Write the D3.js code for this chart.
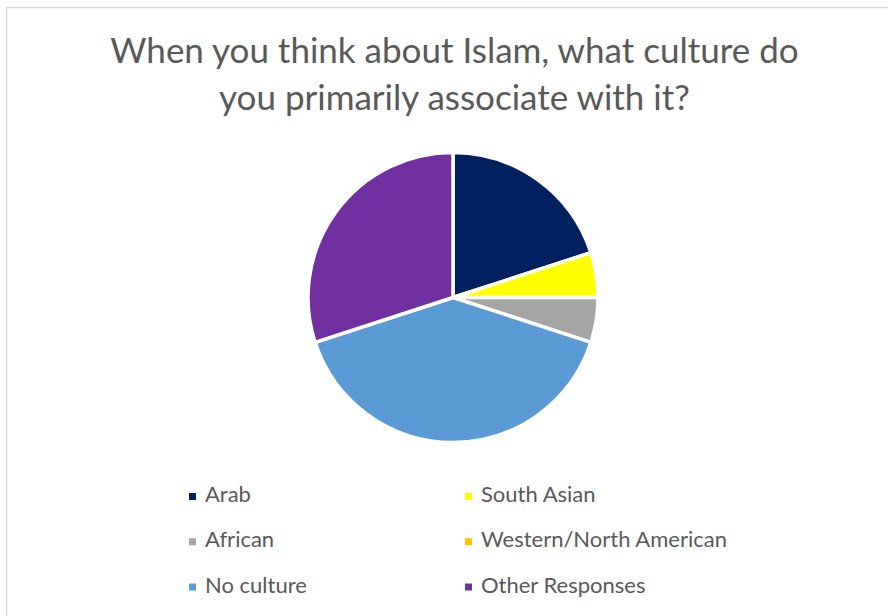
<!DOCTYPE html>
<html>
<head>
<meta charset="utf-8">
<script src="https://cdn.jsdelivr.net/npm/d3@7"></script>
<style>
  html, body { margin: 0; padding: 0; background: #ffffff; }
  svg { display: block; }
</style>
</head>
<body>
<svg id="chart" width="888" height="616"></svg>
<script>
// Survey responses
const categories = ["Arab", "South Asian", "African", "Western/North American", "No culture", "Other Responses"];
const counts = [4, 1, 1, 0, 8, 6];
const colors = ["#002060", "#FFFF00", "#A5A5A5", "#FFC000", "#5B9BD5", "#7030A0"];
const titleLines = ["When you think about Islam, what culture do", "you primarily associate with it?"];

const svg = d3.select("#chart");
const W = 888, H = 616;

// Chart area frame
svg.append("rect")
  .attr("x", 6.5).attr("y", 7.5)
  .attr("width", W + 10).attr("height", H + 10)
  .attr("fill", "#ffffff")
  .attr("stroke", "#d9d9d9").attr("stroke-width", 1.5);

// Title
const fontFamily = "Lato, 'Open Sans', sans-serif";
svg.append("g").selectAll("text")
  .data(titleLines)
  .join("text")
  .attr("x", 454.5)
  .attr("y", (d, i) => 63 + i * 47)
  .attr("text-anchor", "middle")
  .attr("font-family", fontFamily)
  .attr("font-size", 35)
  .attr("fill", "#595959")
  .text(d => d);

// Pie
const data = categories.map((c, i) => ({ name: c, value: counts[i], color: colors[i] }));
const pie = d3.pie().value(d => d.value).sort(null);
const arc = d3.arc().innerRadius(0).outerRadius(145);
const color = d3.scaleOrdinal().domain(categories).range(colors);

svg.append("g")
  .attr("transform", "translate(453,297.5)")
  .selectAll("path")
  .data(pie(data).filter(d => d.data.value > 0))
  .join("path")
  .attr("d", arc)
  .attr("fill", d => color(d.data.name))
  .attr("stroke", "#ffffff")
  .attr("stroke-width", 3.5)
  .attr("stroke-linejoin", "round");

// Legend: two columns, three rows
const colX = d3.scaleOrdinal().domain([0, 1]).range([189, 465]);
const rowY = d3.scalePoint().domain([0, 1, 2]).range([496.5, 587]);
const legend = svg.append("g").selectAll("g")
  .data(categories)
  .join("g")
  .attr("transform", (d, i) => `translate(${colX(i % 2)},${rowY(Math.floor(i / 2))})`);

legend.append("rect")
  .attr("x", 0).attr("y", -3.5)
  .attr("width", 7).attr("height", 7)
  .attr("fill", d => color(d));

legend.append("text")
  .attr("x", 16).attr("y", 5.5)
  .attr("font-family", fontFamily)
  .attr("font-size", 22)
  .attr("fill", "#595959")
  .text(d => d);
</script>
</body>
</html>
